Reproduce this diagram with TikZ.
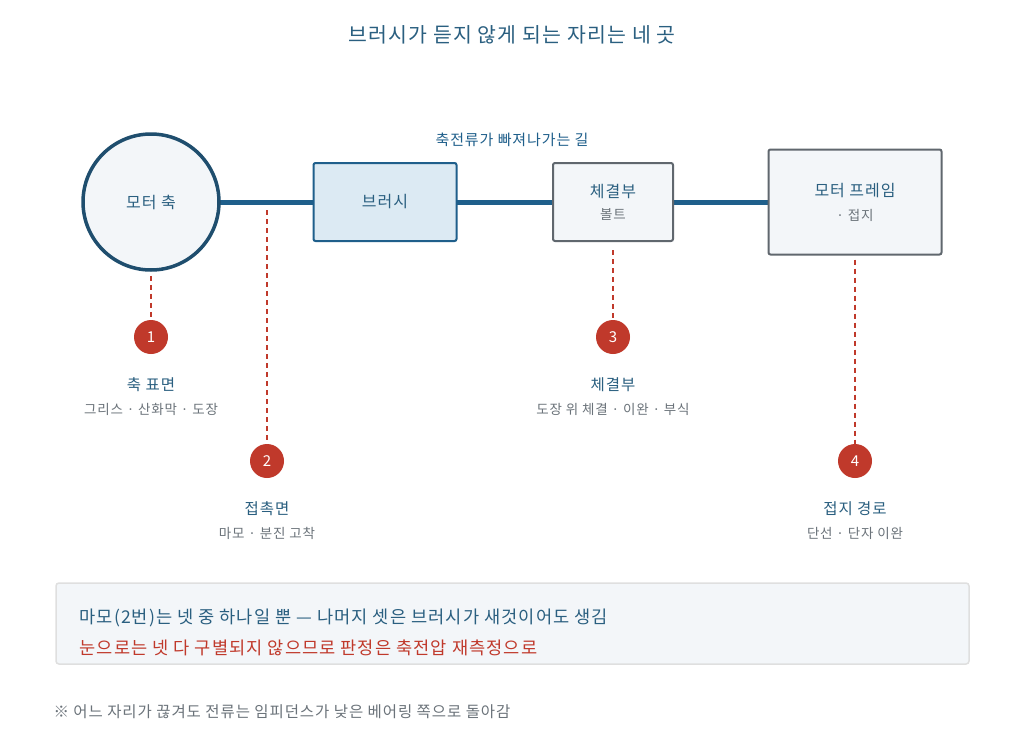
\documentclass[tikz,border=0pt]{standalone}
\usepackage{fontspec}
\setmainfont{Noto Sans CJK KR}[LetterSpace=6]
\usetikzlibrary{positioning}
\definecolor{navy}{HTML}{1F4E6E}
\definecolor{wire}{HTML}{1F5F8B}
\definecolor{bluetxt}{HTML}{2A5F80}
\definecolor{redmark}{HTML}{C0392B}
\definecolor{greytxt}{HTML}{6B737A}
\definecolor{pale}{HTML}{F3F6F9}
\definecolor{brushfill}{HTML}{DCEAF3}
\begin{document}
\begin{tikzpicture}[x=1pt, y=-1pt,
    part/.style={draw=#1, line width=2pt, rounded corners=2pt, font=\fontsize{16}{19}\selectfont, text=bluetxt, align=center},
    badge/.style={circle, fill=redmark, minimum size=34pt, inner sep=0pt, text=white, font=\fontsize{15}{16}\selectfont},
    tap/.style={draw=redmark, line width=1.3pt, dash pattern=on 5pt off 4pt},
    head/.style={text=bluetxt, font=\fontsize{15.5}{17}\selectfont},
    sub/.style={text=greytxt, font=\fontsize{13.5}{15}\selectfont}
]
\useasboundingbox[fill=white] (0,0) rectangle (1024,755);

\node[text=bluetxt, font=\fontsize{20.5}{22}\selectfont] (title) at (512,35) {브러시가 듣지 않게 되는 자리는 네 곳};

% current path
\draw[wire, line width=5pt] (151,202) -- (855,202);
\node[circle, draw=navy, line width=3.5pt, fill=pale, minimum size=136pt, font=\fontsize{16}{19}\selectfont, text=bluetxt] (shaft) at (151,202) {모터 축};
\node[part=wire, fill=brushfill, minimum width=143pt, minimum height=78pt] (brush) at (385,202) {브러시};
\node[part=greytxt!90!black, fill=pale, minimum width=120pt, minimum height=78pt] (joint) at (613,202) {체결부\\[3pt]{\fontsize{13.5}{15}\selectfont\color{greytxt}볼트}};
\node[part=greytxt!90!black, fill=pale, minimum width=173pt, minimum height=105pt] (frame) at (855,202) {모터 프레임\\[5pt]{\fontsize{13.5}{15}\selectfont\color{greytxt}· 접지}};
\node[text=wire, font=\fontsize{15}{17}\selectfont] (path) at (512,140) {축전류가 빠져나가는 길};

% failure points
\node[badge] (b1) at (151,337) {1};
\node[badge] (b2) at (267,461) {2};
\node[badge] (b3) at (613,337) {3};
\node[badge] (b4) at (855,461) {4};
\coordinate (c2) at (267,210);
\draw[tap] ([yshift=-4pt]shaft.south) -- (b1);
\draw[tap] (c2) -- (b2);
\draw[tap] ([yshift=-8pt]joint.south) -- (b3);
\draw[tap] ([yshift=-4pt]frame.south) -- (b4);

\node[head] (h1) at (151,385) {축 표면};
\node[sub] (s1) at (151,409) {그리스 · 산화막 · 도장};
\node[head] (h2) at (267,509) {접촉면};
\node[sub] (s2) at (267,533) {마모 · 분진 고착};
\node[head] (h3) at (613,385) {체결부};
\node[sub] (s3) at (613,409) {도장 위 체결 · 이완 · 부식};
\node[head] (h4) at (855,509) {접지 경로};
\node[sub] (s4) at (855,533) {단선 · 단자 이완};

% note box
\draw[draw=gray!25, line width=1.5pt, fill=pale, rounded corners=3pt] (56,583) rectangle (969,664);
\node[anchor=west, text=bluetxt, font=\fontsize{17.6}{19}\selectfont] (n1) at (76,618) {마모(2번)는 넷 중 하나일 뿐 — 나머지 셋은 브러시가 새것이어도 생김};
\node[anchor=west, text=redmark, font=\fontsize{17.6}{19}\selectfont] (n2) at (76,648) {눈으로는 넷 다 구별되지 않으므로 판정은 축전압 재측정으로};
\node[anchor=west, text=greytxt, font=\fontsize{15.5}{17}\selectfont] (foot) at (50,712) {※ 어느 자리가 끊겨도 전류는 임피던스가 낮은 베어링 쪽으로 돌아감};
\end{tikzpicture}
\end{document}
